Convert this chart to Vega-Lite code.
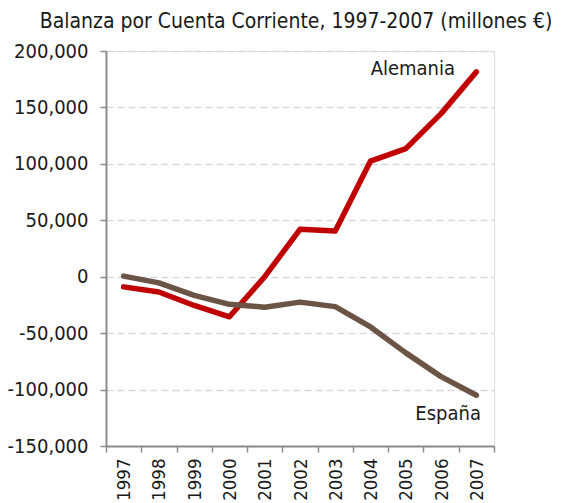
{
  "$schema": "https://vega.github.io/schema/vega-lite/v6.json",
  "autosize": {"type": "none"},
  "width": 388,
  "height": 395,
  "padding": {"left": 106, "top": 51, "right": 72, "bottom": 57},
  "background": "white",
  "title": {
    "text": "Balanza por Cuenta Corriente, 1997-2007 (millones €)",
    "font": "DejaVu Sans Condensed",
    "fontSize": 21,
    "fontWeight": "normal",
    "color": "#1a1a1a",
    "anchor": "middle",
    "offset": 9,
    "dx": -4
  },
  "datasets": {
    "series": [
      {"year": "1997", "pais": "Alemania", "valor": -9000},
      {"year": "1998", "pais": "Alemania", "valor": -13500},
      {"year": "1999", "pais": "Alemania", "valor": -25500},
      {"year": "2000", "pais": "Alemania", "valor": -35500},
      {"year": "2001", "pais": "Alemania", "valor": 0},
      {"year": "2002", "pais": "Alemania", "valor": 42000},
      {"year": "2003", "pais": "Alemania", "valor": 40500},
      {"year": "2004", "pais": "Alemania", "valor": 102500},
      {"year": "2005", "pais": "Alemania", "valor": 113500},
      {"year": "2006", "pais": "Alemania", "valor": 144500},
      {"year": "2007", "pais": "Alemania", "valor": 181500},
      {"year": "1997", "pais": "España", "valor": 500},
      {"year": "1998", "pais": "España", "valor": -5500},
      {"year": "1999", "pais": "España", "valor": -16500},
      {"year": "2000", "pais": "España", "valor": -24500},
      {"year": "2001", "pais": "España", "valor": -27000},
      {"year": "2002", "pais": "España", "valor": -22500},
      {"year": "2003", "pais": "España", "valor": -26500},
      {"year": "2004", "pais": "España", "valor": -44500},
      {"year": "2005", "pais": "España", "valor": -67500},
      {"year": "2006", "pais": "España", "valor": -88500},
      {"year": "2007", "pais": "España", "valor": -105000}
    ],
    "labels": [
      {"year": "2005", "pais": "Alemania", "valor": 184000},
      {"year": "2006", "pais": "España", "valor": -122000}
    ]
  },
  "layer": [
    {
      "data": {"name": "series"},
      "mark": {"type": "line", "strokeWidth": 5.5, "strokeJoin": "round", "strokeCap": "round"},
      "encoding": {
        "x": {
          "field": "year", "type": "ordinal", "bandPosition": 0.5,
          "scale": {"type": "band", "paddingInner": 0, "paddingOuter": 0},
          "axis": {
            "title": null,
            "labelAngle": -90,
            "labelAlign": "right",
            "labelBaseline": "middle",
            "labelFont": "DejaVu Sans Condensed",
            "labelFontSize": 18.5,
            "labelColor": "#1a1a1a",
            "labelPadding": 6,
            "tickBand": "extent",
            "tickSize": 6,
            "tickColor": "#8c8c8c",
            "tickWidth": 1.5,
            "domainColor": "#8c8c8c",
            "domainWidth": 2,
            "grid": false
          }
        },
        "y": {
          "field": "valor", "type": "quantitative",
          "scale": {"domain": [-150000, 200000], "nice": false, "zero": false},
          "axis": {
            "title": null,
            "values": [-150000, -100000, -50000, 0, 50000, 100000, 150000, 200000],
            "labelExpr": "replace(format(datum.value, ','), '\u2212', '-')",
            "labelFont": "DejaVu Sans Condensed",
            "labelFontSize": 20,
            "labelColor": "#1a1a1a",
            "labelPadding": 12,
            "tickSize": 6,
            "tickColor": "#8c8c8c",
            "tickWidth": 1.5,
            "domainColor": "#8c8c8c",
            "domainWidth": 2,
            "grid": true,
            "gridColor": "#d9d9d9",
            "gridWidth": 1.5,
            "gridDash": [7, 4]
          }
        },
        "color": {
          "field": "pais", "type": "nominal",
          "scale": {"domain": ["Alemania", "España"], "range": ["#C00000", "#6B5345"]},
          "legend": null
        }
      }
    },
    {
      "data": {"name": "labels"},
      "mark": {"type": "text", "font": "DejaVu Sans Condensed", "fontSize": 20, "color": "#1a1a1a", "dx": 7, "align": "center", "baseline": "middle"},
      "encoding": {
        "x": {"field": "year", "type": "ordinal", "bandPosition": 0.5},
        "y": {"field": "valor", "type": "quantitative"},
        "text": {"field": "pais"}
      }
    }
  ]
}
